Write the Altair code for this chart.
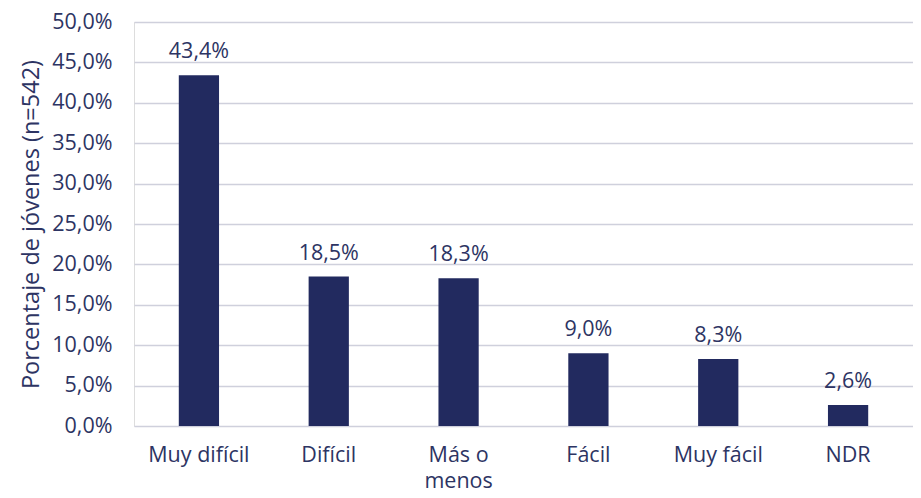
import altair as alt
import pandas as pd

categorias = ["Muy difícil", "Difícil", "Más o menos", "Fácil", "Muy fácil", "NDR"]
porcentajes = [43.4, 18.5, 18.3, 9.0, 8.3, 2.6]

df = pd.DataFrame({"cat": categorias, "pct": porcentajes})

TEXT = "#2d3463"
BAR = "#222a5f"
FONT = "Open Sans"
FS = 21.5

x = alt.X("cat:N", sort=categorias, title=None,
          scale=alt.Scale(paddingInner=0.69, paddingOuter=0.345),
          axis=alt.Axis(labelAngle=0, labelFont=FONT, labelFontSize=FS, labelColor=TEXT,
                        labelPadding=18, labelLineHeight=26, ticks=False, domain=False,
                        labelExpr="datum.label == 'Más o menos' ? ['Más o', 'menos'] : datum.label"))
y = alt.Y("pct:Q", title="Porcentaje de jóvenes (n=542)",
          scale=alt.Scale(domain=[0, 50], nice=False),
          axis=alt.Axis(values=list(range(0, 51, 5)), labelFont=FONT, labelFontSize=FS,
                        labelColor=TEXT, labelPadding=22, ticks=False, domain=False,
                        gridColor="#cfd0dc", gridWidth=1.6,
                        labelExpr="replace(format(datum.value, '.1f'), '.', ',') + '%'",
                        titleFont=FONT, titleFontSize=23.5, titleFontWeight="normal",
                        titleColor=TEXT, titlePadding=8))

base = alt.Chart(df).encode(x=x, y=y)
bars = base.mark_bar(color=BAR)
labels = base.transform_calculate(
    lab="replace(format(datum.pct, '.1f'), '.', ',') + '%'"
).mark_text(baseline="bottom", dy=-12, font=FONT, fontSize=FS, color=TEXT).encode(text="lab:N")

chart = (bars + labels).properties(
    width=779, height=404,
    autosize=alt.AutoSizeParams(type="none"),
    padding={"left": 126, "top": 14, "right": 0, "bottom": 64},
).configure_view(stroke=None).configure(background="white")

chart.save("out.html", embed_options={"renderer": "svg", "actions": False})
